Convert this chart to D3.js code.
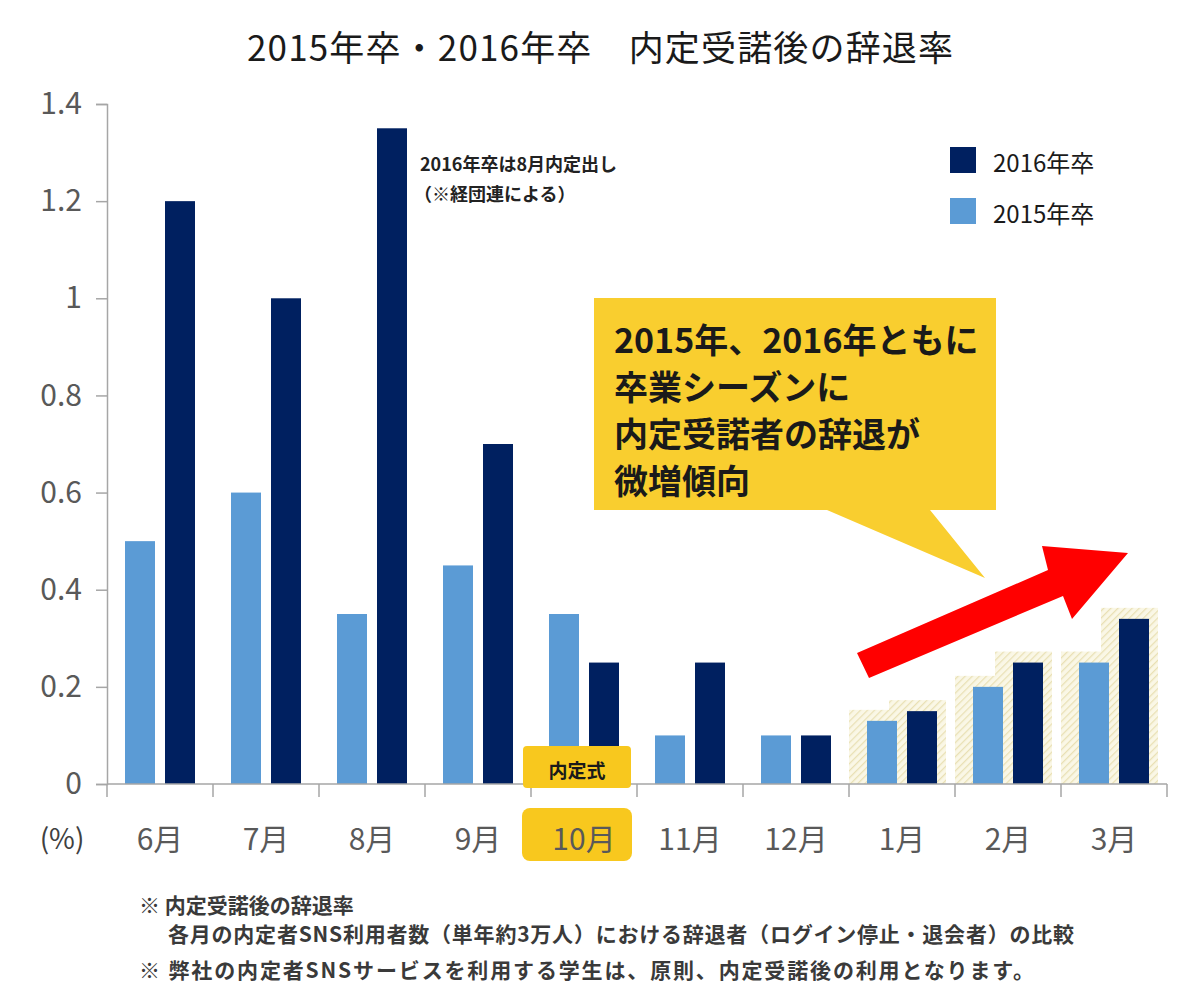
<!DOCTYPE html>
<html><head><meta charset="utf-8">
<script src="https://cdn.jsdelivr.net/npm/d3@7/dist/d3.min.js"></script>
<style>
html,body{margin:0;padding:0;background:#fff;}
svg{display:block;font-family:"Noto Sans CJK JP","Noto Sans",sans-serif;}
</style></head>
<body>
<script>
const months = ["6月","7月","8月","9月","10月","11月","12月","1月","2月","3月"];
const series = ["2015年卒","2016年卒"];
const values2015 = [0.5,0.6,0.35,0.45,0.35,0.1,0.1,0.13,0.2,0.25];
const values2016 = [1.2,1.0,1.35,0.7,0.25,0.25,0.1,0.15,0.25,0.34];
const yTicks = [0,0.2,0.4,0.6,0.8,1,1.2,1.4];
const highlightedMonths = ["1月","2月","3月"];
const eventMonth = "10月";
const titleText = "2015年卒・2016年卒　内定受諾後の辞退率";
const noteLines = ["2016年卒は8月内定出し","（※経団連による）"];
const calloutLines = ["2015年、2016年ともに","卒業シーズンに","内定受諾者の辞退が","微増傾向"];
const footnotes = ["※ 内定受諾後の辞退率","各月の内定者SNS利用者数（単年約3万人）における辞退者（ログイン停止・退会者）の比較","※ 弊社の内定者SNSサービスを利用する学生は、原則、内定受諾後の利用となります。"];

const colors = {"2015年卒":"#5B9BD5","2016年卒":"#002060"};
const W=1200,H=1001;
const svg = d3.select("body").append("svg").attr("width",W).attr("height",H);

const defs = svg.append("defs");
const pat = defs.append("pattern").attr("id","hatch").attr("patternUnits","userSpaceOnUse")
  .attr("width",5).attr("height",5).attr("patternTransform","rotate(45)");
pat.append("rect").attr("width",5).attr("height",5).attr("fill","#faf7e6");
pat.append("line").attr("x1",0).attr("y1",0).attr("x2",0).attr("y2",5).attr("stroke","#e9e0b4").attr("stroke-width",2.5);

const x = d3.scaleBand().domain(months).range([107,1167]).paddingInner(0).paddingOuter(0);
const xs = d3.scaleBand().domain(series).range([0,x.bandwidth()]).paddingInner(0.25).paddingOuter(0.45);
const y = d3.scaleLinear().domain([0,1.4]).range([784,104]);

const data = months.map((m,i)=>({month:m, vals:[{s:"2015年卒",v:values2015[i]},{s:"2016年卒",v:values2016[i]}]}));

// title
svg.append("text").attr("x",600).attr("y",45).attr("text-anchor","middle").attr("dominant-baseline","central")
  .attr("font-size",35).attr("fill","#1a1a1a").attr("textLength",706).attr("lengthAdjust","spacing").text(titleText);

// hatched backgrounds
const hl = data.filter(d=>highlightedMonths.includes(d.month));
const gbg = svg.append("g");
hl.forEach(d=>{
  d.vals.forEach(v=>{
    const bx = x(d.month)+xs(v.s);
    gbg.append("rect").attr("x",bx-18).attr("width",xs.bandwidth()+27)
      .attr("y",y(v.v)-11).attr("height",y(0)-y(v.v)+11).attr("fill","url(#hatch)");
  });
});

// bars
const gb = svg.append("g");
data.forEach(d=>{
  gb.selectAll(null).data(d.vals).join("rect")
    .attr("x",v=>x(d.month)+xs(v.s)).attr("width",xs.bandwidth())
    .attr("y",v=>y(v.v)).attr("height",v=>y(0)-y(v.v)).attr("fill",v=>colors[v.s]);
});

// axes
const axisColor="#a6a6a6";
const yAxis = svg.append("g").attr("transform","translate(107,0)")
  .call(d3.axisLeft(y).tickValues(yTicks).tickSize(11).tickFormat(d=>d3.format("")(d)).tickPadding(14));
yAxis.select(".domain").attr("stroke",axisColor).attr("stroke-width",1.5);
yAxis.selectAll(".tick line").attr("stroke",axisColor).attr("stroke-width",1.5);
yAxis.selectAll("text").attr("font-size",30).attr("fill","#595959").attr("font-family","'Noto Sans CJK JP',sans-serif");

// highlight box for event month label
svg.append("rect").attr("x",x(eventMonth)-9).attr("y",808).attr("width",x.bandwidth()+4).attr("height",53)
  .attr("rx",8).attr("fill","#F8C81E");

const xAxis = svg.append("g").attr("transform","translate(0,784)")
  .call(d3.axisBottom(x).tickSize(0).tickPadding(0));
xAxis.select(".domain").remove();
xAxis.selectAll(".tick text").attr("y",53).attr("dy",null).attr("dominant-baseline","central")
  .attr("font-size",30).attr("fill","#595959").attr("font-family","'Noto Sans CJK JP',sans-serif");
// bottom axis line & boundary ticks
svg.append("line").attr("x1",x.range()[0]).attr("x2",x.range()[1]).attr("y1",784).attr("y2",784)
  .attr("stroke",axisColor).attr("stroke-width",1.5);
svg.append("g").selectAll("line").data(months.concat(["end"])).join("line")
  .attr("x1",(d,i)=>x.range()[0]+i*x.step()).attr("x2",(d,i)=>x.range()[0]+i*x.step())
  .attr("y1",784).attr("y2",797).attr("stroke",axisColor).attr("stroke-width",1.5);

svg.append("text").attr("x",62).attr("y",837).attr("text-anchor","middle").attr("dominant-baseline","central")
  .attr("font-size",28).attr("fill","#404040").text("(%)");

// event box (内定式)
svg.append("rect").attr("x",x(eventMonth)-8).attr("y",746).attr("width",x.bandwidth()+2).attr("height",42)
  .attr("rx",4).attr("fill","#F8C81E");
svg.append("text").attr("x",x(eventMonth)+x.bandwidth()/2-7).attr("y",769).attr("text-anchor","middle")
  .attr("dominant-baseline","central").attr("font-size",19).attr("font-weight","bold").attr("fill","#1a1a1a").text("内定式");

// note near August
svg.append("g").selectAll("text").data(noteLines).join("text")
  .attr("x",(d,i)=>i===0?420:414).attr("y",(d,i)=>163+i*30).attr("dominant-baseline","central")
  .attr("font-size",18).attr("font-weight","bold").attr("fill","#222").text(d=>d);

// legend
const leg = svg.append("g");
[["2016年卒",147,161],["2015年卒",198,212]].forEach(([s,ry,ty])=>{
  leg.append("rect").attr("x",950).attr("y",ry).attr("width",26).attr("height",26).attr("fill",colors[s]);
  leg.append("text").attr("x",993).attr("y",ty).attr("dominant-baseline","central").attr("font-size",24)
    .attr("fill","#1a1a1a").text(s);
});

// callout
svg.append("path").attr("d","M594,298 H996 V510 H930 L985,578 L827,510 H594 Z").attr("fill","#F9CE2F");
svg.append("g").selectAll("text").data(calloutLines).join("text")
  .attr("x",614).attr("y",(d,i)=>338+i*47).attr("dominant-baseline","central")
  .attr("font-size",34).attr("font-weight","bold").attr("fill","#1a1a1a").text(d=>d);

// red arrow
svg.append("path").attr("d","M857,653 L1048,570 L1042,546 L1128,553 L1072,619 L1063,596 L869,678 Z").attr("fill","#FF0000");

// footnotes
const fn = svg.append("g");
fn.append("text").attr("x",139).attr("y",904).text(footnotes[0]);
fn.append("text").attr("x",168).attr("y",933).attr("textLength",906).attr("lengthAdjust","spacing").text(footnotes[1]);
fn.append("text").attr("x",139).attr("y",969).attr("textLength",895).attr("lengthAdjust","spacing").text(footnotes[2]);
fn.selectAll("text").attr("dominant-baseline","central").attr("font-size",21).attr("font-weight","bold").attr("fill","#3a3a3a");
</script>
</body></html>
